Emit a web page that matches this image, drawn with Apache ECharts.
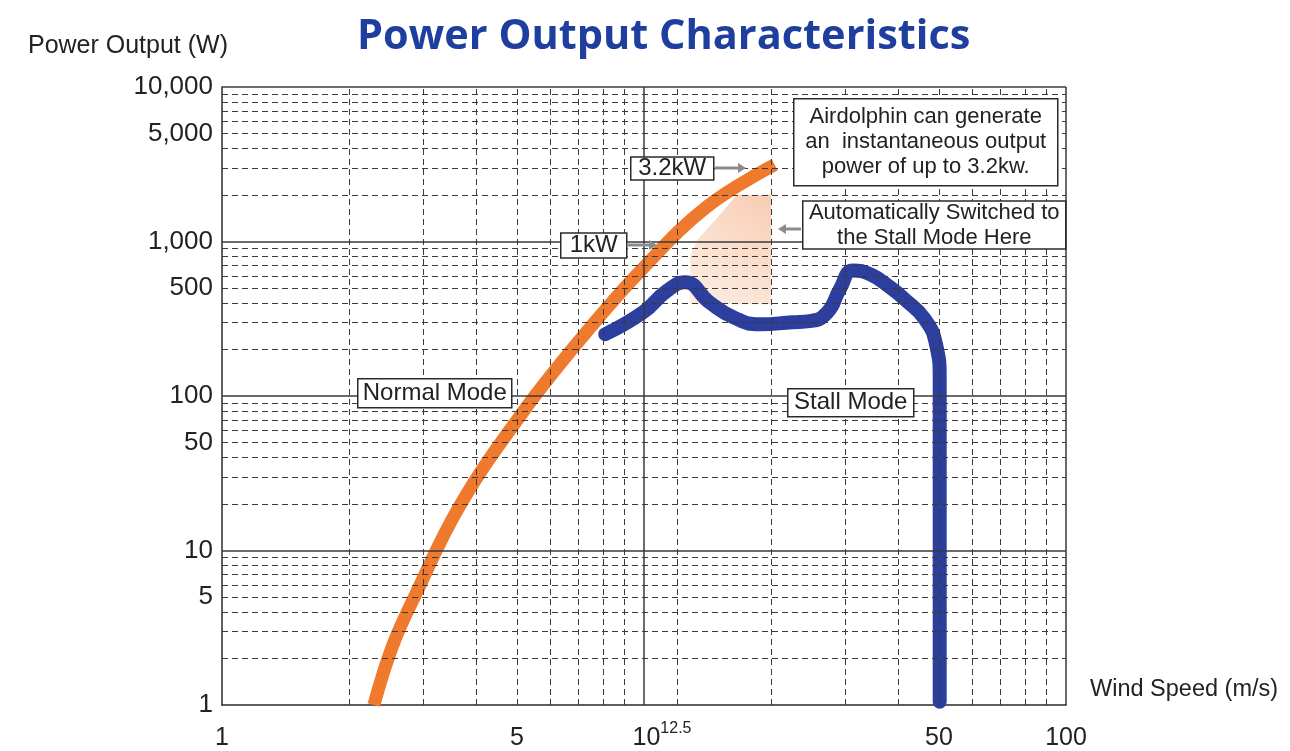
<!DOCTYPE html>
<html lang="en">
<head>
    <meta charset="UTF-8">
    <title>Power Output Characteristics</title>
    <script src="https://cdn.jsdelivr.net/npm/echarts@6/dist/echarts.min.js"></script>
    <style>
        html, body { margin: 0; padding: 0; background: #fff; }
        #main { width: 1290px; height: 751px; }
    </style>
</head>
<body>
<div id="main"></div>
<script>
    // wind speed (m/s) / power (W)
    var normalWind  = [2.29, 2.54, 2.87, 3.66, 5.17, 7.17, 9.78, 14.1, 20.4];
    var normalPower = [1, 2.44, 5.13, 19.5, 79, 244, 640, 1683, 3140];

    var stallWind  = [8.09, 9.95, 11.3, 12.5, 14.3, 16.3, 18.8, 22.5, 24.7, 27.2, 29.1, 31.3, 34.5, 38.5, 41.5, 46.3, 49.2, 50.2, 50.2, 50.2];
    var stallPower = [251, 348, 476, 544, 404, 323, 291, 300, 305, 348, 490, 650, 610, 500, 422, 314, 216, 129, 60, 1.05];

    // shaded zone between the two modes
    var shadeWind  = [16.6, 20, 20, 12.85, 12.85, 13.4, 15];
    var shadePower = [2010, 2010, 392, 392, 800, 1030, 1450];

    // tick labels
    var xLabelValues = [1, 5, 10, 50, 100];
    var yLabelValues = [1, 5, 10, 50, 100, 500, 1000, 5000, 10000];

    // grid lines
    var xMajor = [10, 100];
    var xMinor = [2, 3, 4, 5, 6, 7, 8, 9, 12, 20, 30, 40, 50, 60, 70, 80, 90];
    var yMajor = [10, 100, 1000, 10000];
    var yMinor = [2, 3, 4, 5, 6, 7, 8, 9,
                  20, 30, 40, 50, 60, 70, 80, 90,
                  200, 300, 400, 500, 600, 700, 800, 900,
                  2000, 3000, 4000, 5000, 6000, 7000, 8000, 9000];

    function pairs(xs, ys) {
        var out = [];
        for (var i = 0; i < xs.length; i++) out.push([xs[i], ys[i]]);
        return out;
    }

    // grid line list for markLine
    function gridLines() {
        var list = [];
        var minorStyle = { color: '#3a3a3a', width: 1, type: [6, 4] };
        var majorStyle = { color: '#3a3a3a', width: 1.5, type: 'solid' };
        xMinor.forEach(function (v) { list.push({ xAxis: v, lineStyle: minorStyle }); });
        yMinor.forEach(function (v) { list.push({ yAxis: v, lineStyle: minorStyle }); });
        xMajor.forEach(function (v) { list.push({ xAxis: v, lineStyle: majorStyle }); });
        yMajor.forEach(function (v) { list.push({ yAxis: v, lineStyle: majorStyle }); });
        return list;
    }

    var labelFont = 'Liberation Sans';
    var textColor = '#222';

    // boxed notes
    function note(x, y, w, h, lines, size) {
        return {
            type: 'group',
            left: x, top: y,
            z: 100,
            children: [
                { type: 'rect', z: 100, shape: { x: 0, y: 0, width: w, height: h },
                  style: { fill: '#fff', stroke: '#2a2a2a', lineWidth: 1.5 } },
                { type: 'text', z: 101, x: w / 2, y: h / 2,
                  style: { text: lines.join('\n'), fill: textColor, font: size + 'px "' + labelFont + '"',
                           align: 'center', verticalAlign: 'middle', lineHeight: size + 3 } }
            ]
        };
    }

    function arrow(x1, x2, y) {
        var dir = x2 > x1 ? 1 : -1;
        return {
            type: 'group', z: 100,
            children: [
                { type: 'line', z: 100, shape: { x1: x1, y1: y, x2: x2 - dir * 6, y2: y },
                  style: { stroke: '#8c8c8c', lineWidth: 3 } },
                { type: 'polygon', z: 100, shape: { points: [[x2, y], [x2 - dir * 8, y - 5], [x2 - dir * 8, y + 5]] },
                  style: { fill: '#8c8c8c' } }
            ]
        };
    }

    var myChart = echarts.init(document.getElementById('main'));

    var option = {
        backgroundColor: '#fff',
        animation: false,
        title: {
            text: 'Power Output Characteristics',
            left: 352,
            top: 11,
            textStyle: { fontFamily: 'Open Sans', fontWeight: 'bold', fontSize: 41.5, color: '#1f3f9e' }
        },
        grid: { left: 222, right: 224, top: 87, bottom: 44 },
        xAxis: {
            type: 'log',
            logBase: 10,
            min: 1,
            max: 100,
            name: 'Wind Speed (m/s)',
            nameLocation: 'end',
            nameGap: 24,
            nameTextStyle: { fontFamily: labelFont, fontSize: 23.5, color: textColor, align: 'left',
                             verticalAlign: 'bottom', lineHeight: 31 },
            axisLine: { show: true, lineStyle: { color: '#2a2a2a', width: 1.5 } },
            axisTick: { show: false },
            splitLine: { show: false },
            axisLabel: {
                customValues: xLabelValues,
                margin: 16,
                fontFamily: labelFont,
                color: textColor,
                formatter: function (v) {
                    var n = Math.round(v);
                    if (n === 10) return '{pad| }{base|10}{sup|12.5}';
                    return '{base|' + n + '}';
                },
                rich: {
                    pad: { width: 36 },
                    base: { fontFamily: labelFont, fontSize: 25, color: textColor, lineHeight: 30, verticalAlign: 'bottom' },
                    sup: { fontFamily: labelFont, fontSize: 16, color: textColor, verticalAlign: 'top', lineHeight: 30 }
                }
            }
        },
        yAxis: {
            type: 'log',
            logBase: 10,
            min: 1,
            max: 10000,
            name: 'Power Output (W)',
            nameLocation: 'end',
            nameGap: 28,
            nameTextStyle: { fontFamily: labelFont, fontSize: 25, color: textColor, align: 'right',
                             padding: [0, -6, 0, 0] },
            axisLine: { show: true, lineStyle: { color: '#2a2a2a', width: 1.5 } },
            axisTick: { show: false },
            splitLine: { show: false },
            axisLabel: {
                customValues: yLabelValues,
                margin: 9,
                fontFamily: labelFont,
                fontSize: 26,
                color: textColor,
                formatter: function (v) {
                    return Math.round(v).toLocaleString('en-US');
                }
            }
        },
        series: [
            {
                name: 'grid',
                type: 'line',
                data: [],
                silent: true,
                markLine: {
                    silent: true,
                    symbol: ['none', 'none'],
                    label: { show: false },
                    animation: false,
                    data: gridLines()
                },
                z: 1
            },
            {
                name: 'zone',
                type: 'custom',
                silent: true,
                z: 2,
                data: pairs(shadeWind, shadePower),
                renderItem: function (params, api) {
                    if (params.dataIndex !== 0) return;
                    var pts = [];
                    for (var i = 0; i < shadeWind.length; i++) {
                        pts.push(api.coord([shadeWind[i], shadePower[i]]));
                    }
                    return {
                        type: 'polygon',
                        shape: { points: pts },
                        style: {
                            fill: new echarts.graphic.LinearGradient(1, 0, 0, 1, [
                                { offset: 0, color: 'rgba(244,176,136,0.65)' },
                                { offset: 1, color: 'rgba(248,204,176,0.35)' }
                            ])
                        }
                    };
                }
            },
            {
                name: 'Normal Mode',
                type: 'line',
                data: pairs(normalWind, normalPower),
                smooth: 0.4,
                clip: true,
                showSymbol: false,
                lineStyle: { color: '#ef7a2e', width: 13, cap: 'butt' },
                z: 3
            },
            {
                name: 'Stall Mode',
                type: 'line',
                data: pairs(stallWind, stallPower),
                smooth: 0.5,
                showSymbol: false,
                lineStyle: { color: '#2c3f9e', width: 14, cap: 'round', join: 'round' },
                z: 4
            }
        ],
        graphic: [
            note(793, 98, 264, 87, ['Airdolphin can generate', 'an  instantaneous output', 'power of up to 3.2kw.'], 22),
            note(802, 200, 263, 48, ['Automatically Switched to', 'the Stall Mode Here'], 22),
            note(630, 155, 83, 23, ['3.2kW'], 24),
            note(560, 232, 66, 25, ['1kW'], 24),
            note(357, 378, 154, 29, ['Normal Mode'], 24),
            note(787, 388, 126, 28, ['Stall Mode'], 24),
            arrow(715, 746, 168),
            arrow(628, 657, 245),
            arrow(801, 778, 229)
        ]
    };

    myChart.setOption(option);
</script>
</body>
</html>
